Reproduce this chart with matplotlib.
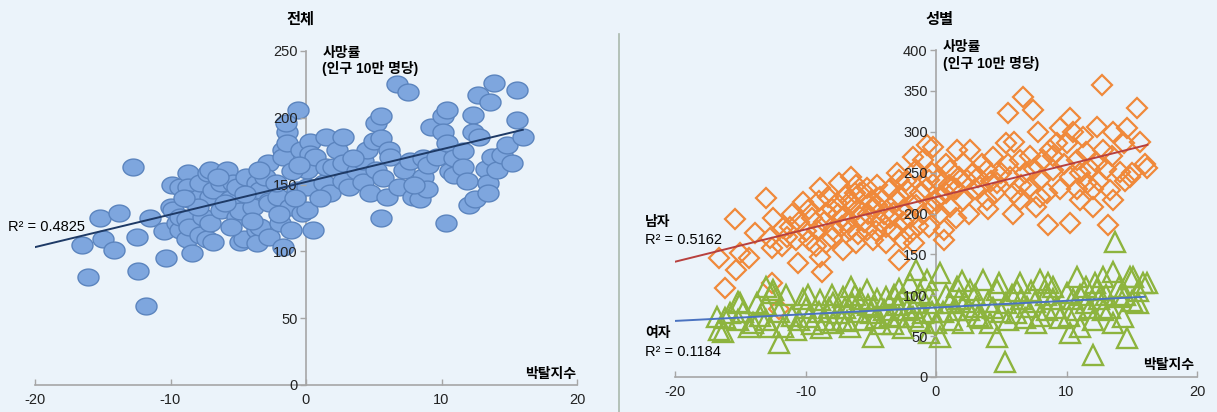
import numpy as np
import matplotlib
matplotlib.use("Agg")
import matplotlib.pyplot as plt

plt.rcParams['font.family'] = ['Liberation Sans', 'Noto Sans CJK KR']
plt.rcParams['axes.unicode_minus'] = False

# 전체: (박탈지수, 사망률)
total_pts = [
    (-16.5, 105), (-16.1, 81), (-15.2, 125), (-15.0, 109), (-14.2, 101), (-13.8, 129),
    (-12.8, 163), (-12.5, 111), (-12.4, 85), (-11.8, 59), (-11.5, 125), (-10.5, 115),
    (-10.3, 95), (-10.0, 133), (-9.8, 131), (-9.9, 150), (-9.5, 121), (-9.3, 116),
    (-9.3, 148), (-9.3, 126), (-8.8, 124), (-8.8, 109), (-8.7, 159), (-8.7, 148),
    (-8.6, 139), (-8.6, 118), (-8.4, 99), (-7.8, 141), (-7.8, 151), (-7.8, 112),
    (-7.6, 126), (-7.3, 109), (-7.2, 159), (-7.1, 161), (-7.1, 141), (-7.1, 121),
    (-6.9, 146), (-6.9, 107), (-6.3, 131), (-6.3, 151), (-5.8, 161), (-5.6, 139),
    (-5.4, 151), (-5.1, 148), (-5.1, 126), (-4.9, 107), (-4.9, 130), (-4.6, 109),
    (-4.4, 156), (-3.9, 133), (-3.6, 151), (-3.6, 116), (-3.6, 106), (-3.4, 118),
    (-3.4, 146), (-2.8, 166), (-2.7, 138), (-2.7, 111), (-2.7, 136), (-2.1, 141),
    (-1.9, 121), (-1.7, 176), (-1.7, 103), (-1.7, 171), (-1.4, 189), (-1.4, 181),
    (-1.2, 133), (-1.1, 116), (-0.7, 146), (-0.6, 206), (-0.4, 176), (-0.3, 129),
    (0.1, 161), (0.1, 148), (0.1, 131), (0.3, 182), (0.3, 173), (0.5, 116),
    (0.7, 171), (1.3, 151), (1.5, 186), (1.5, 163), (1.8, 144), (2.0, 163),
    (2.3, 176), (2.7, 186), (2.7, 166), (2.7, 153), (3.2, 148), (3.8, 160),
    (4.2, 168), (4.2, 152), (4.5, 176), (4.7, 144), (5.0, 183), (5.2, 196),
    (5.2, 161), (5.5, 201), (5.5, 185), (5.5, 125), (5.7, 155), (6.0, 141),
    (6.1, 176), (6.2, 171), (6.7, 225), (6.9, 148), (7.2, 161), (7.5, 219),
    (7.7, 168), (7.9, 141), (8.4, 139), (8.6, 170), (8.6, 156), (8.9, 147),
    (9.0, 165), (9.2, 193), (9.7, 171), (10.1, 201), (10.1, 189), (10.3, 121),
    (10.4, 206), (10.4, 181), (10.6, 160), (10.9, 170), (10.9, 157), (11.6, 175),
    (11.6, 163), (11.9, 153), (12.0, 135), (12.3, 202), (12.3, 189), (12.5, 139),
    (12.7, 217), (12.8, 186), (13.3, 162), (13.4, 151), (13.4, 144), (13.6, 212),
    (13.7, 171), (13.9, 226), (14.1, 161), (14.5, 172), (14.8, 180), (15.2, 166),
    (15.6, 221), (15.6, 198), (16.0, 186),
    (-6.5, 156), (-4.5, 143), (-3.0, 156), (-2.2, 151), (-1.0, 160), (-0.5, 165),
    (-6.0, 136), (-8.0, 133), (-5.5, 118), (-4.0, 123), (-2.0, 128), (-0.8, 140),
    (-9.0, 140), (-1.5, 196), (-3.5, 161), (1.0, 140), (3.5, 170), (8.0, 150),
]

# 성별: 남자
male_pts = [
    (-16.6, 146), (-16.2, 109), (-15.4, 193), (-15.3, 131), (-15.0, 152), (-14.3, 145),
    (-13.9, 176), (-13.0, 219), (-12.7, 170), (-12.6, 158), (-12.6, 115), (-12.0, 83),
    (-11.7, 182), (-11.4, 171), (-11.2, 184), (-10.7, 168), (-10.6, 139), (-10.2, 214),
    (-9.7, 168), (-9.1, 180), (-8.9, 231), (-8.9, 147), (-8.7, 129), (-8.4, 201),
    (-8.4, 164), (-7.9, 180), (-7.6, 213), (-7.4, 237), (-7.1, 196), (-7.1, 155),
    (-6.6, 180), (-6.4, 213), (-6.1, 235), (-6.1, 164), (-5.8, 196), (-5.3, 231),
    (-5.3, 180), (-4.8, 208), (-4.8, 168), (-4.3, 220), (-3.8, 184), (-3.8, 164),
    (-3.3, 201), (-2.8, 241), (-2.8, 143), (-2.5, 204), (-2.5, 168), (-2.2, 229),
    (-2.0, 176), (-1.8, 269), (-1.7, 164), (-1.5, 253), (-0.7, 284), (-0.5, 241),
    (-0.5, 184), (-0.2, 208), (-0.2, 281), (0.1, 241), (0.2, 220), (0.3, 200),
    (0.6, 180), (0.6, 168), (1.1, 253), (1.1, 208), (1.3, 233), (1.6, 278),
    (2.1, 262), (2.1, 216), (2.4, 241), (2.6, 278), (3.4, 233), (3.9, 253),
    (3.9, 216), (4.4, 269), (4.7, 237), (5.4, 286), (5.5, 323), (5.7, 245),
    (5.9, 200), (6.0, 288), (6.4, 265), (6.4, 216), (6.7, 343), (7.2, 233),
    (7.4, 327), (7.7, 208), (8.0, 241), (8.6, 186), (8.7, 278), (9.0, 253),
    (9.3, 286), (9.5, 304), (10.0, 286), (10.3, 317), (10.3, 245), (10.3, 188),
    (10.8, 265), (11.0, 216), (11.3, 294), (11.6, 237), (12.0, 208), (12.3, 306),
    (12.3, 262), (12.7, 357), (12.8, 278), (13.2, 186), (13.3, 229), (13.6, 300),
    (13.6, 216), (14.1, 251), (14.4, 286), (14.6, 304), (14.9, 245), (15.4, 329),
    (15.6, 288), (16.2, 256),
    (-8.0, 205), (-7.0, 222), (-6.0, 205), (-5.0, 215), (-4.0, 200), (-3.0, 215),
    (-6.8, 190), (-5.5, 190), (-4.2, 190), (-3.5, 230), (-1.2, 225), (-1.0, 200),
    (-9.5, 195), (-10.5, 190), (-8.0, 170), (-3.0, 250), (-1.0, 265), (0.8, 260),
    (1.8, 245), (3.0, 230), (3.5, 260), (4.5, 225), (5.0, 250), (6.5, 235),
    (7.5, 255), (8.5, 225), (9.5, 230), (11.0, 250), (12.0, 230), (13.0, 255),
    (14.5, 240), (11.5, 275), (9.0, 270), (7.8, 300), (10.5, 300), (1.5, 195),
    (-1.5, 210), (-2.5, 190), (-4.5, 235), (-6.5, 245), (-8.3, 220), (-9.7, 205),
    (-11.0, 200), (-12.5, 195), (2.5, 200), (4.0, 205), (6.0, 225), (8.0, 220),
    (15.0, 250), (16.0, 260),
    (-9.0, 215), (-7.5, 200), (-6.2, 225), (-5.2, 200), (-4.5, 210), (-3.5, 195),
    (-2.8, 222), (-2.0, 195), (-0.8, 230), (0.0, 215), (0.8, 225), (1.5, 230),
    (2.8, 250), (4.2, 240), (5.5, 260), (6.8, 250), (8.2, 265), (9.8, 260),
    (11.8, 255), (13.5, 270), (-8.6, 190), (-7.2, 185), (-6.0, 175), (-4.6, 178),
    (-3.2, 178), (-1.4, 185), (-10.0, 178), (-11.8, 160), (-5.8, 225), (-2.3, 240),
    (3.2, 245), (12.5, 240), (10.8, 230), (7.2, 270), (-0.3, 250), (1.0, 235),
    (-6.6, 215), (-9.2, 160),
]

# 성별: 여자
female_pts = [
    (-16.8, 73), (-16.6, 57), (-16.3, 55), (-16.2, 72), (-15.2, 92), (-15.2, 70),
    (-15.0, 90), (-14.3, 61), (-14.0, 66), (-13.7, 90), (-13.0, 110), (-13.0, 88),
    (-12.7, 61), (-12.6, 103), (-12.5, 106), (-12.0, 42), (-11.7, 61), (-10.7, 57),
    (-9.7, 73), (-8.9, 94), (-7.9, 90), (-7.9, 66), (-7.1, 98), (-6.6, 61),
    (-6.4, 90), (-5.3, 106), (-4.8, 86), (-4.8, 49), (-2.8, 73), (-1.8, 73),
    (-1.5, 131), (-1.2, 103), (-2.0, 115), (-0.7, 119), (-0.5, 54), (-0.2, 90),
    (0.0, 66), (0.3, 127), (0.3, 49), (1.1, 90), (1.6, 110), (2.1, 66),
    (2.6, 106), (3.1, 86), (3.6, 119), (4.1, 66), (4.7, 106), (4.7, 49),
    (5.4, 90), (5.3, 18), (6.1, 78), (6.4, 115), (7.0, 86), (7.7, 66),
    (8.0, 119), (8.5, 82), (9.0, 110), (10.0, 103), (10.3, 54), (10.8, 122),
    (10.8, 82), (11.0, 61), (11.5, 90), (12.0, 27), (12.3, 106), (12.8, 122),
    (12.8, 82), (13.6, 128), (13.6, 66), (13.7, 165), (14.1, 98), (14.3, 73),
    (14.6, 48), (14.9, 122), (15.0, 93), (15.1, 122), (15.9, 115), (16.2, 115),
    (-11.0, 75), (-10.0, 85), (-9.5, 65), (-9.0, 80), (-8.5, 70), (-8.0, 100),
    (-7.5, 78), (-7.0, 85), (-6.8, 68), (-6.0, 80), (-5.8, 95), (-5.5, 70),
    (-5.0, 78), (-4.5, 95), (-4.2, 65), (-4.0, 82), (-3.5, 75), (-3.2, 100),
    (-3.0, 88), (-2.5, 60), (-2.2, 82), (-1.5, 90), (-1.0, 78), (-0.5, 100),
    (0.5, 80), (1.2, 70), (1.8, 95), (2.5, 82), (3.0, 100), (3.5, 72),
    (4.0, 92), (5.0, 80), (5.8, 100), (6.5, 95), (7.3, 105), (8.0, 75),
    (9.0, 95), (9.5, 72), (10.5, 95), (11.5, 110), (12.0, 70), (13.0, 100),
    (14.0, 110), (-13.5, 75), (-11.5, 100), (-10.2, 95), (-14.8, 80),
    (-10.5, 70), (-9.8, 100), (-8.8, 60), (-8.2, 85), (-7.2, 70), (-6.2, 100),
    (-5.2, 88), (-4.6, 72), (-3.8, 98), (-3.3, 65), (-2.6, 95), (-1.8, 85),
    (-1.2, 68), (-0.3, 80), (0.8, 100), (1.5, 82), (2.2, 92), (3.2, 75),
    (4.4, 85), (5.5, 70), (6.2, 105), (6.8, 72), (7.6, 92), (8.4, 100),
    (9.2, 85), (10.2, 75), (11.0, 100), (11.8, 85), (12.5, 95), (13.3, 85),
    (14.5, 100), (15.5, 105), (-12.0, 80), (-13.0, 70), (-15.8, 78), (-6.5, 110),
    (-2.8, 108), (2.0, 118), (4.8, 115), (8.6, 115), (12.2, 115), (15.5, 90),
]

# trend lines (slope, intercept, x range)
total_fit = (2.44, 152, -20, 16)
male_fit = (3.95, 220, -20, 16.2)
female_fit = (0.82, 85, -20, 16)

r2_total = "R² = 0.4825"
r2_male = "R² = 0.5162"
r2_female = "R² = 0.1184"

bg = "#EBF3FA"
axis_grey = "#A6A6A6"

fig = plt.figure(figsize=(12.17, 4.12), dpi=100)
fig.patch.set_facecolor(bg)


def setup_axes(ax, ymax, ystep):
    ax.set_facecolor(bg)
    ax.set_xlim(-20, 20)
    ax.set_ylim(0, ymax)
    ax.spines['left'].set_position(('data', 0))
    ax.spines['bottom'].set_position(('data', 0))
    ax.spines['top'].set_visible(False)
    ax.spines['right'].set_visible(False)
    for s in ('left', 'bottom'):
        ax.spines[s].set_color(axis_grey)
        ax.spines[s].set_linewidth(1.2)
        ax.spines[s].set_zorder(0.5)  # markers cover the axis line
    ax.set_xticks([-20, -10, 0, 10, 20])
    ax.set_yticks(np.arange(0, ymax + 1, ystep))
    ax.tick_params(axis='both', colors=axis_grey, labelcolor='#222222',
                   labelsize=10.5, length=4, width=1)
    ax.tick_params(axis='x', direction='in', pad=6)
    ax.tick_params(axis='y', direction='out', pad=2)


def fit_line(ax, fit, color):
    slope, inter, x0, x1 = fit
    xs = np.array([x0, x1])
    ax.plot(xs, slope * xs + inter, color=color, lw=1.4, zorder=2)


# ellipse-shaped marker for 전체
t = np.linspace(0, 2 * np.pi, 48)
ell = np.column_stack([np.cos(t), 0.8 * np.sin(t)])

# ---- 전체
ax1 = fig.add_axes([35 / 1217, 1 - 385 / 412, 542 / 1217, 334 / 412])
setup_axes(ax1, 250, 50)
tx, ty = np.array(total_pts).T
ax1.scatter(tx, ty, marker=ell, s=230, facecolor="#7EA6DE", edgecolor="#5B84BE",
            linewidth=1.0, zorder=1)
fit_line(ax1, total_fit, "#1E3A66")
ax1.text(-22, 118, r2_total, fontsize=10.5, va='center', ha='left', clip_on=False, zorder=6)
ax1.text(1.2, 254, "사망률\n(인구 10만 명당)", fontsize=10, fontweight='bold',
         va='top', ha='left', linespacing=1.15, clip_on=False)
ax1.text(19.9, 8, "박탈지수", fontsize=10, fontweight='bold', ha='right', va='center')

# ---- 성별
ax2 = fig.add_axes([675 / 1217, 1 - 377 / 412, 522 / 1217, 327 / 412])
setup_axes(ax2, 400, 50)
mx, my = np.array(male_pts).T
fx, fy = np.array(female_pts).T
ax2.plot(mx, my, linestyle='none', marker='D', ms=10.5, mfc='none', mec="#F0893A",
         mew=1.6, zorder=1)
ax2.plot(fx, fy, linestyle='none', marker='^', ms=14, mfc='none', mec="#8DB43E",
         mew=1.7, zorder=1)
fit_line(ax2, male_fit, "#B8403E")
fit_line(ax2, female_fit, "#4A72C0")
ax2.text(-22.3, 190, "남자", fontsize=10, fontweight='bold', va='center', ha='left', clip_on=False)
ax2.text(-22.3, 168, r2_male, fontsize=10.5, va='center', ha='left', clip_on=False)
ax2.text(-22.3, 54, "여자", fontsize=10, fontweight='bold', va='center', ha='left', clip_on=False)
ax2.text(-22.3, 31, r2_female, fontsize=10.5, va='center', ha='left', clip_on=False)
ax2.text(0.5, 412, "사망률\n(인구 10만 명당)", fontsize=10, fontweight='bold',
         va='top', ha='left', linespacing=1.15, clip_on=False)
ax2.text(19.8, 15, "박탈지수", fontsize=10, fontweight='bold', ha='right', va='center')

# titles and divider
fig.text(300 / 1217, 1 - 20 / 412, "전체", fontsize=11, fontweight='bold', ha='center', va='center')
fig.text(939 / 1217, 1 - 20 / 412, "성별", fontsize=11, fontweight='bold', ha='center', va='center')
fig.add_artist(plt.Line2D([619 / 1217, 619 / 1217], [0, 1 - 34 / 412],
                          color="#A9B9AC", lw=1.2))

fig.savefig("out.png", dpi=100, facecolor=bg)
